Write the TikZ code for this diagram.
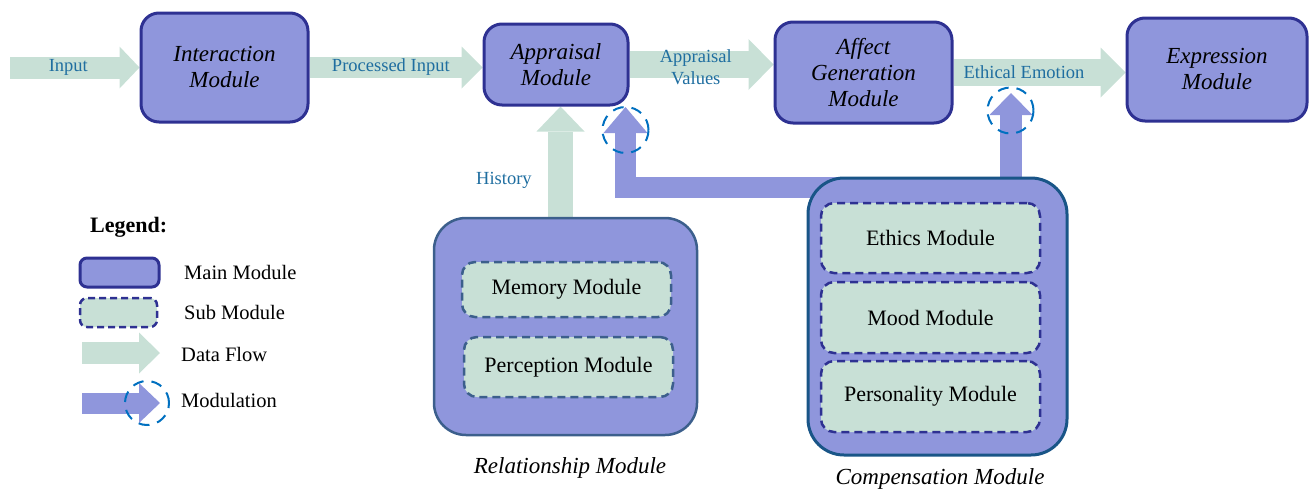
\documentclass[tikz,border=0pt]{standalone}
\usepackage{fontspec}
\setmainfont{Liberation Serif}
\usetikzlibrary{arrows.meta}

\definecolor{modfill}{RGB}{143,150,220}
\definecolor{modline}{RGB}{46,49,146}
\definecolor{subfill}{RGB}{200,224,214}
\definecolor{flowfill}{RGB}{200,224,214}
\definecolor{relline}{RGB}{60,95,140}
\definecolor{compline}{RGB}{25,85,135}
\definecolor{flowtext}{RGB}{31,110,160}
\definecolor{ringblue}{RGB}{0,112,192}

\pgfdeclarelayer{bg}
\pgfsetlayers{bg,main}

\begin{document}
\begin{tikzpicture}[x=1pt,y=-1pt,
  mainmod/.style={draw=modline, fill=modfill, line width=3pt, rounded corners=18pt, align=center, inner sep=0pt, font=\fontsize{23}{26}\selectfont\itshape},
  groupmod/.style={fill=modfill, line width=2.5pt, rounded corners=32pt},
  submod/.style={draw=modline, fill=subfill, line width=2.5pt, dash pattern=on 8pt off 5pt, rounded corners=13pt, minimum width=209pt, inner sep=0pt, font=\fontsize{22}{26}\selectfont},
  grouplabel/.style={font=\fontsize{23}{26}\selectfont\itshape},
  flow/.style n args={3}{draw=flowfill, line width=#1, -{Triangle[width=#2,length=#3,line width=0pt]}},
  modul/.style n args={3}{draw=modfill, line width=#1, -{Triangle[width=#2,length=#3,line width=0pt]}},
  flowlabel/.style={text=flowtext, align=center, font=\fontsize{18.5}{22}\selectfont},
  modring/.style={circle, draw=ringblue, line width=2pt, dash pattern=on 11pt off 8pt, inner sep=0pt, minimum size=#1},
  legendtext/.style={anchor=west, inner sep=0pt, font=\fontsize{20.5}{24}\selectfont}
]
\useasboundingbox (0,0) rectangle (1309,490);

% main chain
\node[mainmod, minimum width=167pt, minimum height=109pt] (inter) at (224.5,67.5) {Interaction\\Module};
\node[mainmod, minimum width=144pt, minimum height=81pt] (appr) at (556,64.5) {Appraisal\\Module};
\node[mainmod, minimum width=177pt, minimum height=101pt] (affect) at (863.5,72.5) {Affect\\Generation\\Module};
\node[mainmod, minimum width=180pt, minimum height=103pt] (expr) at (1217,69.5) {Expression\\Module};

% relationship module
\node[groupmod, draw=relline, minimum width=263pt, minimum height=217pt] (rel) at (565.5,326.5) {};
\node[submod, draw=relline, minimum height=55pt] (memory) at (566.5,289.5) {Memory Module};
\node[submod, draw=relline, minimum height=60pt] (percep) at (568.5,367) {Perception Module};
\node[grouplabel] (rellabel) at (570,468) {Relationship Module};

% compensation module
\node[groupmod, draw=compline, line width=3pt, rounded corners=36pt, minimum width=259pt, minimum height=277pt] (comp) at (937.5,316.5) {};
\node[submod, minimum width=219pt, minimum height=70pt] (ethics) at (930.5,238) {Ethics Module};
\node[submod, minimum width=219pt, minimum height=71pt] (mood) at (930.5,317.5) {Mood Module};
\node[submod, minimum width=219pt, minimum height=71pt] (person) at (930.5,396.5) {Personality Module};
\node[grouplabel] (complabel) at (940,479) {Compensation Module};

% arrows go under the boxes
\begin{pgfonlayer}{bg}
\coordinate (inp) at (10,67.5);
\draw[flow={22pt}{42pt}{20pt}] (inp) -- (inter.west) node[flowlabel, pos=0.45] {Input};
\draw[flow={21pt}{42pt}{21pt}] (inter.east) -- (inter.east -| appr.west) node[flowlabel, pos=0.47] {Processed Input};
\draw[flow={27pt}{51pt}{25pt}] (appr.east) -- (appr.east -| affect.west) node[flowlabel, pos=0.46, yshift=-3pt] {Appraisal\\Values};
\draw[flow={27pt}{50pt}{25pt}] (affect.east) -- (affect.east -| expr.west) node[flowlabel, pos=0.41] {Ethical Emotion};
\draw[flow={25pt}{48pt}{25pt}] ([xshift=-5pt]rel.north) -- ([xshift=-5pt]rel.north |- appr.south) node[flowlabel, pos=0.33, left=13pt] {History};
\coordinate (modAin) at (840,187.5);
\coordinate (modAtip) at (625.5,107);
\draw[modul={21pt}{44pt}{26pt}] (modAin) -| (modAtip);
\coordinate (modEin) at (1011,195);
\coordinate (modEtip) at (1011,93);
\draw[modul={22pt}{43pt}{22pt}] (modEin) -- (modEtip);
\end{pgfonlayer}

\node[modring=46pt] (ringA) at (625.5,130) {};
\node[modring=46pt] (ringE) at (1010.5,110.5) {};

% legend
\node[anchor=west, inner sep=0pt, font=\fontsize{22}{26}\selectfont\bfseries] (legend) at (90,227) {Legend:};
\node[mainmod, minimum width=79pt, minimum height=29pt, rounded corners=7pt] (lgmain) at (119.5,272.5) {};
\node[submod, minimum width=77pt, minimum height=29pt, rounded corners=7pt, dash pattern=on 7pt off 4pt] (lgsub) at (118.5,312.5) {};
\coordinate (lgflowA) at (82,353);
\coordinate (lgflowB) at (160,353);
\draw[flow={22pt}{41pt}{21pt}] (lgflowA) -- (lgflowB);
\coordinate (lgmodA) at (82,403);
\coordinate (lgmodB) at (160,403);
\draw[modul={21pt}{40pt}{21pt}] (lgmodA) -- (lgmodB);
\node[modring=44pt] (lgring) at (147,403) {};
\node[legendtext] (lgmaintext) at (184,272) {Main Module};
\node[legendtext] (lgsubtext) at (184,312) {Sub Module};
\node[legendtext] (lgflowtext) at (181,354) {Data Flow};
\node[legendtext] (lgmodtext) at (181,400) {Modulation};
\end{tikzpicture}
\end{document}
